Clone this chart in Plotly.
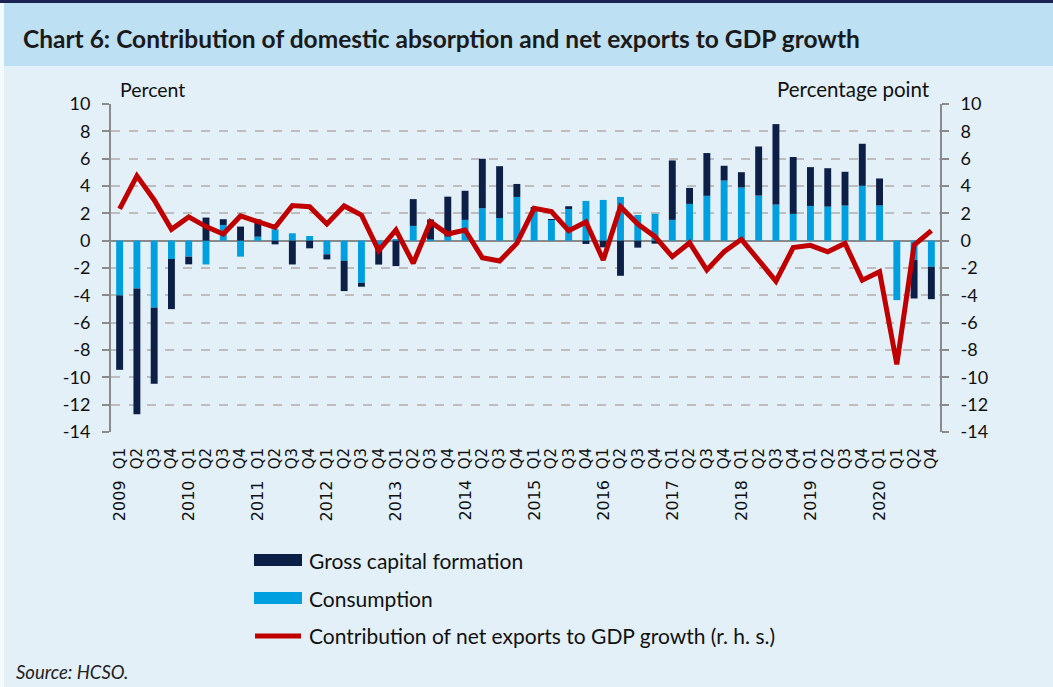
import plotly.graph_objects as go

quarter_labels = ["Q1", "Q2", "Q3", "Q4"] * 11 + ["Q1", "Q1", "Q2", "Q4"]
year_labels = ["2009", "2010", "2011", "2012", "2013", "2014", "2015", "2016",
               "2017", "2018", "2019", "2020"]
y_ticks = [10, 8, 6, 4, 2, 0, -2, -4, -6, -8, -10, -12, -14]
y_tick_text = ["10", "8", "6", "4", "2", "0", "-2", "-4", "-6", "-8", "-10", "-12", "-14"]

consumption = [-4.0, -3.5, -4.9, -1.34, -1.17, -1.74, 1.15, -1.17, 0.29, 0.83, 0.54, 0.34,
               -1.0, -1.47, -3.08, -0.3, 0.1, 1.08, 0.1, 0.29, 1.52, 2.37, 1.66, 3.2,
               2.37, 1.52, 2.32, 2.91, 2.98, 3.2, 1.88, 1.96, 1.52, 2.69, 3.28, 4.4,
               3.89, 3.3, 2.64, 1.96, 2.54, 2.49, 2.57, 4.01, 2.57, -4.35, -1.42, -1.91]

gross_capital = [-5.45, -9.2, -5.57, -3.67, -0.56, 1.69, 0.42, 1.03, 1.27, -0.27, -1.74, -0.56,
                 -0.37, -2.22, -0.29, -1.45, -1.86, 1.96, 1.45, 2.93, 2.13, 3.62, 3.79, 0.95,
                 0.05, 0.05, 0.2, -0.24, -0.49, -2.57, -0.51, -0.22, 4.35, 1.17, 3.13, 1.08,
                 1.12, 3.59, 5.89, 4.16, 2.84, 2.81, 2.47, 3.08, 1.98, 0.0, -2.81, -2.37]

net_exports = [2.32, 4.74, 2.98, 0.83, 1.74, 1.03, 0.49, 1.81, 1.39, 0.98, 2.57, 2.49,
               1.22, 2.54, 1.88, -0.73, 0.78, -1.66, 1.37, 0.49, 0.78, -1.25, -1.49, -0.2,
               2.37, 2.13, 0.73, 1.37, -1.42, 2.49, 1.22, 0.29, -1.17, -0.15, -2.15, -0.81,
               0.1, -1.42, -2.96, -0.51, -0.34, -0.81, -0.2, -2.89, -2.27, -9.05, -0.32, 0.73]

x = list(range(len(quarter_labels)))

W, H = 1053, 687
L, R, T, B = 111, 940, 104, 432


def px(xp):
    return (xp - L) / (R - L)


def py(yp):
    return (B - yp) / (B - T)


NAVY = "#0c1f47"
LIGHT = "#009fe0"
RED = "#c00000"
BODY = "#e3f0f7"
BAND = "#bde0f2"
GRID = "#bdbdbd"
AXIS = "#8a8a8a"

fig = go.Figure()
fig.add_trace(go.Bar(x=x, y=consumption, name="Consumption", marker_color=LIGHT,
                     marker_line_width=0, showlegend=False))
fig.add_trace(go.Bar(x=x, y=gross_capital, name="Gross capital formation", marker_color=NAVY,
                     marker_line_width=0, showlegend=False))
fig.add_trace(go.Scatter(x=x, y=net_exports, mode="lines", yaxis="y2",
                         line=dict(color=RED, width=5), showlegend=False,
                         name="Contribution of net exports to GDP growth (r. h. s.)"))

tickfont = dict(family="Lato", size=18, color="#111111")

fig.update_layout(
    width=W, height=H,
    margin=dict(l=L, r=W - R, t=T, b=H - B),
    paper_bgcolor=BODY, plot_bgcolor=BODY,
    barmode="relative", bargap=0.6,
    xaxis=dict(range=[-0.5, 47.5], tickmode="array", tickvals=x, ticktext=quarter_labels,
               tickangle=-90, tickfont=dict(family="DejaVu Sans", size=15, color="#111111"),
               showgrid=False, showline=False, zeroline=False, ticks="",
               ticklabelstandoff=12),
    yaxis=dict(range=[-14, 10], tickmode="array", tickvals=y_ticks, ticktext=y_tick_text,
               tickfont=tickfont, showgrid=True, gridcolor=GRID,
               griddash="dash", gridwidth=1.5, zeroline=True, zerolinecolor=AXIS,
               zerolinewidth=2, showline=True, linecolor=AXIS, linewidth=2,
               ticks="outside", ticklen=7, tickcolor=AXIS, tickwidth=2, ticklabelstandoff=8),
    yaxis2=dict(range=[-14, 10], tickmode="array", tickvals=y_ticks, ticktext=y_tick_text,
                tickfont=tickfont, overlaying="y", side="right",
                showgrid=False, zeroline=False, showline=True, linecolor=AXIS, linewidth=2,
                ticks="outside", ticklen=7, tickcolor=AXIS, tickwidth=2, ticklabelstandoff=8),
)

shapes = [
    dict(type="rect", xref="paper", yref="paper", x0=px(0), x1=px(W), y0=py(3), y1=py(66),
         fillcolor=BAND, line_width=0, layer="below"),
    dict(type="rect", xref="paper", yref="paper", x0=px(0), x1=px(W), y0=py(0), y1=py(3),
         fillcolor="#1b2452", line_width=0, layer="below"),
    dict(type="rect", xref="paper", yref="paper", x0=px(0), x1=px(4), y0=py(3), y1=py(H),
         fillcolor="#f4f9fc", line_width=0, layer="below"),
    # legend swatches
    dict(type="rect", xref="paper", yref="paper", x0=px(254), x1=px(302), y0=py(554),
         y1=py(566), fillcolor=NAVY, line_width=0),
    dict(type="rect", xref="paper", yref="paper", x0=px(254), x1=px(302), y0=py(592),
         y1=py(604), fillcolor=LIGHT, line_width=0),
    dict(type="line", xref="paper", yref="paper", x0=px(255), x1=px(301), y0=py(636),
         y1=py(636), line=dict(color=RED, width=5)),
]
fig.update_layout(shapes=shapes)

ann = [
    dict(text="<b>Chart 6: Contribution of domestic absorption and net exports to GDP growth</b>",
         x=px(21), y=py(38), xanchor="left", yanchor="middle",
         font=dict(family="Lato", size=24.5, color="#1a1a1a")),
    dict(text="Percent", x=px(118), y=py(89), xanchor="left", yanchor="middle",
         font=dict(family="Lato", size=19.5, color="#111111")),
    dict(text="Percentage point", x=px(932), y=py(89), xanchor="right", yanchor="middle",
         font=dict(family="Lato", size=20.5, color="#111111")),
    dict(text="Gross capital formation", x=px(307), y=py(560), xanchor="left", yanchor="middle",
         font=dict(family="Lato", size=21, color="#111111")),
    dict(text="Consumption", x=px(307), y=py(598), xanchor="left", yanchor="middle",
         font=dict(family="Lato", size=21, color="#111111")),
    dict(text="Contribution of net exports to GDP growth (r. h. s.)", x=px(307), y=py(635),
         xanchor="left", yanchor="middle", font=dict(family="Lato", size=21, color="#111111")),
    dict(text="<i>Source: HCSO.</i>", x=px(14), y=py(672), xanchor="left", yanchor="middle",
         font=dict(family="Lato", size=18.5, color="#222222")),
]
for k, yr in enumerate(year_labels):
    ann.append(dict(text=yr, x=4 * k, xref="x", y=py(478), yref="paper", xanchor="center",
                    yanchor="top", textangle=-90,
                    font=dict(family="DejaVu Sans", size=16, color="#111111")))
for a in ann:
    a.setdefault("xref", "paper")
    a.setdefault("yref", "paper")
    a["showarrow"] = False
fig.update_layout(annotations=ann)

fig.write_html("out.html",
               config={"displayModeBar": False},
               post_script="document.body.style.margin='0px';"
                           "document.body.style.background='" + BODY + "';")
